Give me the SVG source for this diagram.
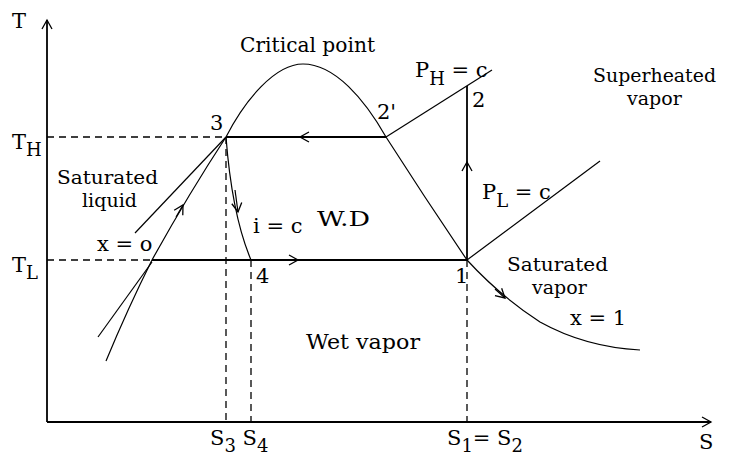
<svg xmlns="http://www.w3.org/2000/svg" width="730" height="460" viewBox="0 0 730 460">
<style>
text{font-family:"DejaVu Serif","Liberation Serif",serif;font-size:21px;fill:#000}
.sub{font-size:18px}
.two{font-size:19px}
.ln{fill:none;stroke:#000;stroke-width:1.2}
.th{fill:none;stroke:#000;stroke-width:1.8}
.ax{fill:none;stroke:#000;stroke-width:1.8}
.dash{fill:none;stroke:#000;stroke-width:1.3;stroke-dasharray:7,5}
.arr{fill:none;stroke:#000;stroke-width:1.2;marker-end:url(#chev)}
</style>
<defs>
<marker id="chev" markerUnits="userSpaceOnUse" markerWidth="14" markerHeight="14" refX="0" refY="0" orient="auto" overflow="visible">
<path d="M-9,-5 L0,0 L-9,5" fill="none" stroke="#000" stroke-width="1.3"/>
</marker>
</defs>
<rect width="730" height="460" fill="#fff"/>
<g id="axes">
<path class="ax" d="M47,422 L47,20" marker-end="url(#chev)"/>
<path class="ax" d="M47,422 L711,422" marker-end="url(#chev)"/>
<text x="12" y="28">T</text>
<text x="699" y="449">S</text>
</g>
<g id="guides">
<path class="dash" d="M47,137 L226,137"/>
<path class="dash" d="M47,260 L152,260"/>
<path class="dash" d="M226,137 L226,422"/>
<path class="dash" d="M251,260 L251,422"/>
<path class="dash" d="M467,260 L467,422"/>
</g>
<g id="dome">
<path class="ln" d="M106,361 Q128,308 152,260 Q188,195 226,137 C245,100 275,64 303,64 C335,64 365,100 386,137 Q425,198 467,260 Q500,296 540,322 Q585,347 640,350"/>
<path class="ln" d="M98,337 L152,262"/>
<path class="ln" d="M135,233 L226,137"/>
</g>
<g id="connectors">
<path class="th" d="M226,137 L386,137"/>
<path class="arr" d="M330,137 L300,137"/>
<path class="th" d="M152,260 L467,260"/>
<path class="arr" d="M270,260 L298,260"/>
<path class="th" d="M467,260 L467,86"/>
<path class="arr" d="M467,200 L467,162"/>
<path class="ln" d="M226,137 Q232,215 251,260"/>
<path class="arr" d="M235,190 L238,212"/>
<path class="arr" d="M176,217 L183,205"/>
<path class="arr" d="M495,289 L505,298"/>
<path class="ln" d="M386,137 L492,70"/>
<path class="ln" d="M467,260 L600,161"/>
</g>
<g id="labels">
<text x="12" y="149">T<tspan class="sub" dy="7">H</tspan></text>
<text x="12" y="272">T<tspan class="sub" dy="7">L</tspan></text>
<text x="210" y="130">3</text>
<text x="377" y="119">2'</text>
<text x="472" y="107">2</text>
<text x="455" y="283">1</text>
<text x="256" y="283">4</text>
<text x="240" y="52" textLength="135" lengthAdjust="spacingAndGlyphs">Critical point</text>
<text x="415" y="77">P<tspan class="sub" dy="8">H</tspan><tspan dy="-8"> = c</tspan></text>
<text class="two" x="593" y="82" textLength="123" lengthAdjust="spacingAndGlyphs">Superheated</text>
<text class="two" x="627" y="105">vapor</text>
<text x="482" y="199">P<tspan class="sub" dy="8">L</tspan><tspan dy="-8"> = c</tspan></text>
<text x="317" y="226" font-size="24" textLength="53" lengthAdjust="spacingAndGlyphs">W.D</text>
<text x="253" y="233">i = c</text>
<text class="two" x="57" y="184" textLength="101" lengthAdjust="spacingAndGlyphs">Saturated</text>
<text class="two" x="82" y="207" textLength="55" lengthAdjust="spacingAndGlyphs">liquid</text>
<text x="97" y="251">x = o</text>
<text class="two" x="507" y="271" textLength="101" lengthAdjust="spacingAndGlyphs">Saturated</text>
<text class="two" x="532" y="294">vapor</text>
<text x="570" y="325">x = 1</text>
<text x="306" y="349" textLength="114" lengthAdjust="spacingAndGlyphs">Wet vapor</text>
<text x="210" y="445">S<tspan class="sub" dy="7">3</tspan><tspan dy="-7"> S</tspan><tspan class="sub" dy="7">4</tspan></text>
<text x="447" y="445">S<tspan class="sub" dy="7">1</tspan><tspan dy="-7">= S</tspan><tspan class="sub" dy="7">2</tspan></text>
</g>
</svg>
